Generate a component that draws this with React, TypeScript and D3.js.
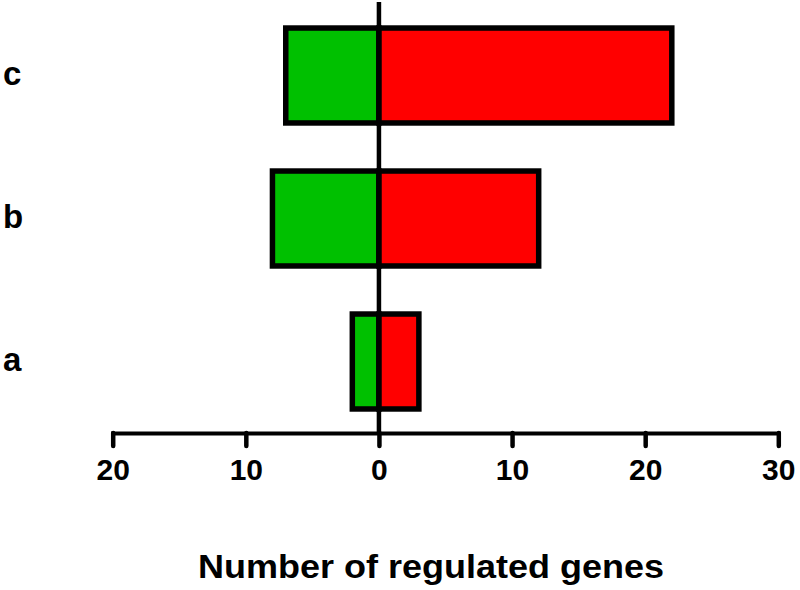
import * as d3 from 'd3';
import React, { useRef, useEffect } from 'react';

// categories from bottom to top
const categories = ['a', 'b', 'c'];
// down-regulated (plotted to the left) and up-regulated (to the right)
const downValues = [2, 8, 7];
const upValues = [3, 12, 22];
const xTicks = [-20, -10, 0, 10, 20, 30];
const xTitle = 'Number of regulated genes';

function App() {
  const svgRef = useRef<SVGSVGElement>(null);

  const width = 800;
  const height = 590;
  const axisY = 433;

  useEffect(() => {
    const svg = d3.select(svgRef.current);
    svg.selectAll('*').remove();

    const x = d3.scaleLinear().domain([-20, 30]).range([112.7, 778.3]);
    const y = d3.scaleBand<string>()
      .domain([...categories].reverse())
      .range([4, axisY])
      .paddingInner(0.336)
      .paddingOuter(0.168);

    const font = '"Liberation Sans", Arial, sans-serif';

    // bars: green for down, red for up
    const rows = categories.map((c, i) => ({ c, down: downValues[i], up: upValues[i] }));
    const bars = svg.append('g');
    bars.selectAll('rect.down')
      .data(rows)
      .join('rect')
      .attr('class', 'down')
      .attr('x', d => x(-d.down))
      .attr('y', d => y(d.c)!)
      .attr('width', d => x(0) - x(-d.down))
      .attr('height', y.bandwidth())
      .attr('fill', '#00c000')
      .attr('stroke', '#000')
      .attr('stroke-width', 5.5);
    bars.selectAll('rect.up')
      .data(rows)
      .join('rect')
      .attr('class', 'up')
      .attr('x', x(0))
      .attr('y', d => y(d.c)!)
      .attr('width', d => x(d.up) - x(0))
      .attr('height', y.bandwidth())
      .attr('fill', '#ff0000')
      .attr('stroke', '#000')
      .attr('stroke-width', 5.5);

    // zero line
    svg.append('line')
      .attr('x1', x(0)).attr('x2', x(0))
      .attr('y1', 2).attr('y2', axisY)
      .attr('stroke', '#000')
      .attr('stroke-width', 4.5);

    // category labels
    svg.append('g')
      .selectAll('text')
      .data(categories)
      .join('text')
      .attr('x', 3)
      .attr('y', d => y(d)! + y.bandwidth() / 2 + 9)
      .attr('font-family', font)
      .attr('font-weight', 'bold')
      .attr('font-size', 33)
      .text(d => d);

    // x axis
    const axis = svg.append('g')
      .attr('transform', `translate(0,${axisY})`)
      .call(d3.axisBottom(x)
        .tickValues(xTicks)
        .tickSize(13)
        .tickSizeOuter(0)
        .tickPadding(12)
        .tickFormat(d => String(Math.abs(+d))));
    axis.select('.domain')
      .attr('stroke', '#000')
      .attr('stroke-width', 4)
      .attr('stroke-linecap', 'square');
    axis.selectAll('.tick line')
      .attr('stroke', '#000')
      .attr('stroke-width', 4.5)
      .attr('stroke-linecap', 'round');
    axis.selectAll('.tick text')
      .attr('font-family', font)
      .attr('font-weight', 'bold')
      .attr('font-size', 30)
      .attr('dy', null)
      .attr('y', 47)
      .attr('fill', '#000');

    // axis title
    svg.append('text')
      .attr('x', 431)
      .attr('y', 578)
      .attr('text-anchor', 'middle')
      .attr('font-family', font)
      .attr('font-weight', 'bold')
      .attr('font-size', 33)
      .attr('textLength', 466)
      .attr('lengthAdjust', 'spacingAndGlyphs')
      .text(xTitle);
  }, []);

  return (
    <svg
      ref={svgRef}
      width={width}
      height={height}
      style={{ position: 'absolute', left: 0, top: 0, background: '#fff' }}
    />
  );
}

export default App;
